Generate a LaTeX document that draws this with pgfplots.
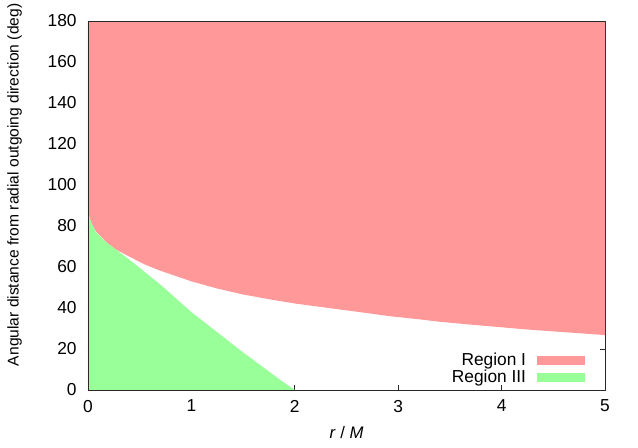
\documentclass[border=0pt]{standalone}
\usepackage{pgfplots}
\pgfplotsset{compat=1.18}
\usepackage{fontspec}
\setmainfont{Liberation Sans}
\definecolor{regI}{RGB}{255,153,153}
\definecolor{regIII}{RGB}{153,255,153}
\definecolor{border}{RGB}{40,40,40}

\begin{document}
\begin{tikzpicture}
\begin{axis}[
    name=ax,
    scale only axis,
    width=387.75pt,
    height=276.75pt,
    xmin=0, xmax=5,
    ymin=0, ymax=180,
    xtick={0,1,2,3,4,5},
    ytick={0,20,...,180},
    tick align=inside,
    major tick length=3.75pt,
    axis line style={border, line width=0.6pt},
    tick style={border, line width=0.6pt},
    /pgf/number format/assume math mode=true,
    tick label style={font=\fontsize{13}{15}\selectfont},
    xticklabel style={yshift=-4pt},
    yticklabel style={xshift=-5pt},
    xlabel={\textit{r} / \textit{M}},
    ylabel={Angular distance from radial outgoing direction (deg)},
    every axis x label/.style={at={(axis description cs:0.5,0)}, anchor=north, yshift=-24pt,
        font=\fontsize{12.5}{15}\selectfont},
    every axis y label/.style={at={(axis description cs:0,0.556)}, rotate=90, anchor=center, yshift=55pt,
        font=\fontsize{11.7}{14}\selectfont},
    legend cell align=right,
    legend plot pos=right,
    legend style={at={(1,0)}, anchor=south east, xshift=-12pt, yshift=0pt,
        draw=none, fill=none, font=\fontsize{13}{15}\selectfont,
        row sep=-2.5pt},
    legend image code/.code={\path (0pt,0pt); \fill[#1] (6pt,-3.4pt) rectangle (42pt,3.4pt);},
]
% Region I: between boundary curve and 180 deg
\addplot[fill=regI, draw=none] coordinates {
    (0,88) (0.01,85) (0.03,81.8) (0.074,77.5) (0.17,72.5) (0.26,68.8)
    (0.41,64.8) (0.55,61.2) (0.7,58.2) (1.0,53) (1.25,49.5) (1.5,46.6)
    (1.76,44.2) (2.0,42.2) (2.34,39.9) (2.6,38.2) (2.92,36.0) (3.2,34.5)
    (3.4,33.3) (3.7,31.9) (4.0,30.6) (4.2,29.7) (4.47,28.7) (4.75,27.7)
    (5,26.8) (5,180) (0,180)
} -- cycle;
\addlegendentry{Region I}
% Region III
\addplot[fill=regIII, draw=none] coordinates {
    (0,0) (0,88) (0.01,85) (0.03,81.6) (0.074,77.2) (0.17,72.3)
    (0.39,64.0) (0.71,51.0) (1.0,38.0) (1.47,19.5) (1.86,4.9) (2.0,0)
} -- cycle;
\addlegendentry{Region III}
\draw[border, line width=0.6pt] (rel axis cs:0,0) rectangle (rel axis cs:1,1);
\end{axis}
\pgfresetboundingbox
\path[use as bounding box] ([xshift=-66pt,yshift=-42.75pt]ax.south west) rectangle ([xshift=24.75pt,yshift=15.75pt]ax.north east);
\end{tikzpicture}
\end{document}
